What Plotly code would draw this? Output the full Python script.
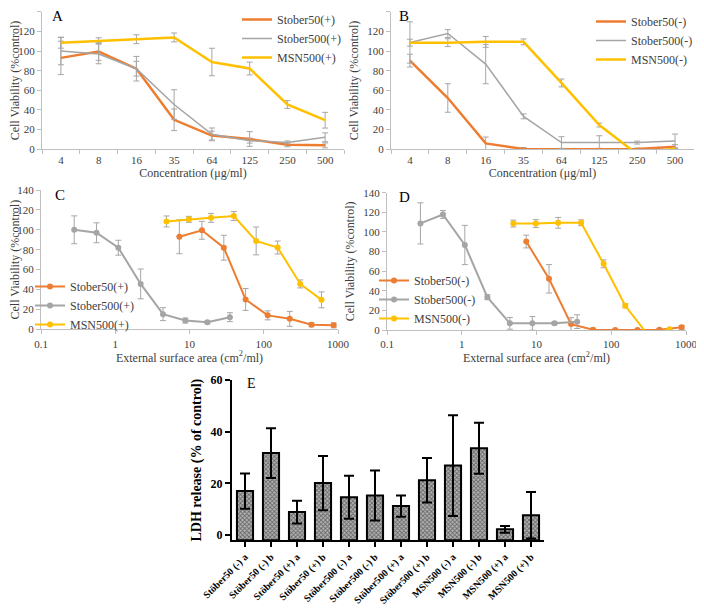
import plotly.graph_objects as go

# ---------------- data ----------------
conc_labels = ["4", "8", "16", "35", "64", "125", "250", "500"]

stober50_pos = [93, 99.5, 82, 30, 14, 10.5, 4.6, 4]
stober50_pos_err = [17, 9, 12.5, 11, 4.5, 7.5, 2, 2.5]
stober500_pos = [100, 97, 82, 45.6, 15.2, 8.8, 7, 12.2]
stober500_pos_err = [14, 10, 7.5, 15, 6.5, 2.5, 1.5, 4.5]
msn500_pos = [108.4, 110.5, 112, 113.8, 88.8, 82.2, 45.6, 29.6]
msn500_pos_err = [5.5, 3, 4.5, 4.5, 14, 6.5, 4, 8]

stober50_neg = [90.2, 52.2, 6, 0.3, 0, 0, 0.3, 2.7]
stober50_neg_err = [6.5, 14.5, 6.5, 1.5, 1, 1, 1, 2]
stober500_neg = [108.7, 117.8, 86.7, 33.5, 6.8, 6.8, 6.8, 8.5]
stober500_neg_err = [21, 4, 20, 2.5, 6, 7, 1.5, 7]
msn500_neg = [108.5, 108.5, 109.3, 109.3, 67.5, 24.7, -5, 0.8]
msn500_neg_err = [3.5, 4, 5.5, 3, 4, 2, 0, 0]

sa_stober50 = [7.3, 14.7, 29, 57, 113, 224, 440, 875]
sa_stober500 = [0.28, 0.56, 1.1, 2.2, 4.4, 8.8, 17.4, 35]
sa_msn500 = [4.9, 9.8, 19.5, 39.5, 79, 154, 310, 600]

ldh_labels = ["Stöber50 (-) a", "Stöber50 (-) b", "Stöber50 (+) a", "Stöber50 (+) b",
              "Stöber500 (-) a", "Stöber500 (-) b", "Stöber500 (+) a", "Stöber500 (+) b",
              "MSN500 (-) a", "MSN500 (-) b", "MSN500 (+) a", "MSN500 (+) b"]
ldh_values = [17, 31.7, 8.9, 20.1, 14.6, 15.3, 11.2, 21.2, 26.9, 33.6, 2.2, 7.7]
ldh_err = [6.8, 9.6, 4.4, 10.5, 8.3, 9.7, 4.1, 8.6, 19.5, 9.9, 1.3, 9]

# ---------------- style ----------------
# the page body has an 8px margin, so the figure is drawn 8px in from the window corner
OFF = 8
W, H = 704 - OFF, 612 - OFF
SERIF = "Liberation Serif, Times New Roman, serif"
ORANGE = "#ED7D31"
GREY = "#A5A5A5"
YELLOW = "#FFC000"
ERRC = "#A6A6A6"
TXT = "#404040"
AXC = "#BFBFBF"


def sx(X):
    return (X - OFF) / W


def sy(Y):
    return 1 - (Y - OFF) / H


def px_x(a, b):
    return [sx(a), sx(b)]


def px_y(top, bottom):
    return [sy(bottom), sy(top)]


fig = go.Figure()


def err(vals):
    return dict(type="data", array=vals, color=ERRC, thickness=1, width=3, visible=True)


series_pos = [("Stober50(+)", stober50_pos, stober50_pos_err, sa_stober50, ORANGE, 2.5),
              ("Stober500(+)", stober500_pos, stober500_pos_err, sa_stober500, GREY, 1.5),
              ("MSN500(+)", msn500_pos, msn500_pos_err, sa_msn500, YELLOW, 2.5)]
series_neg = [("Stober50(-)", stober50_neg, stober50_neg_err, sa_stober50, ORANGE, 2.5),
              ("Stober500(-)", stober500_neg, stober500_neg_err, sa_stober500, GREY, 1.5),
              ("MSN500(-)", msn500_neg, msn500_neg_err, sa_msn500, YELLOW, 2.5)]

# Panel A
for name, y, e, sa, c, w in series_pos:
    fig.add_trace(go.Scatter(x=conc_labels, y=y, error_y=err(e), mode="lines", name=name,
                             line=dict(color=c, width=w), xaxis="x", yaxis="y", legend="legend"))
# Panel B
for name, y, e, sa, c, w in series_neg:
    fig.add_trace(go.Scatter(x=conc_labels, y=y, error_y=err(e), mode="lines", name=name,
                             line=dict(color=c, width=w), xaxis="x2", yaxis="y2", legend="legend2"))
# Panel C
for name, y, e, sa, c, w in series_pos:
    fig.add_trace(go.Scatter(x=sa, y=y, error_y=err(e), mode="lines+markers", name=name,
                             line=dict(color=c, width=2), marker=dict(color=c, size=6),
                             xaxis="x3", yaxis="y3", legend="legend3"))
# Panel D
for name, y, e, sa, c, w in series_neg:
    fig.add_trace(go.Scatter(x=sa, y=y, error_y=err(e), mode="lines+markers", name=name,
                             line=dict(color=c, width=2), marker=dict(color=c, size=6),
                             xaxis="x4", yaxis="y4", legend="legend4"))

# Panel E
BASE = -2
fig.add_trace(go.Bar(x=ldh_labels, y=[v - BASE for v in ldh_values], base=BASE,
                     error_y=dict(type="data", array=ldh_err, color="black", thickness=2, width=5),
                     marker=dict(color="#6e6e6e", line=dict(color="black", width=2),
                                 pattern=dict(shape="x", fgcolor="#1a1a1a", bgcolor="#b4b4b4",
                                              size=3, solidity=0.5)),
                     width=0.62, xaxis="x5", yaxis="y5", showlegend=False))

tickfont = dict(family=SERIF, size=11, color=TXT)
titlefont = dict(family=SERIF, size=12, color=TXT)


def cat_x(dom):
    return dict(domain=dom, type="category", range=[-0.5, 7.5], showline=True, linecolor=AXC,
                ticks="outside", tickson="boundaries", ticklen=4, tickcolor=AXC,
                showgrid=False, zeroline=False, tickfont=tickfont, automargin=False,
                title=dict(text="Concentration (μg/ml)", font=titlefont, standoff=4))


def log_x(dom):
    return dict(domain=dom, type="log", range=[-1, 3], showline=True, linecolor=AXC,
                ticks="outside", ticklen=4, tickcolor=AXC, tickvals=[0.1, 1, 10, 100, 1000],
                ticktext=["0.1", "1", "10", "100", "1000"], showgrid=False, zeroline=False,
                tickfont=tickfont, automargin=False,
                title=dict(text="External surface area (cm<sup>2</sup>/ml)", font=titlefont, standoff=4))


def via_y(dom, anchor):
    return dict(domain=dom, anchor=anchor, range=[0, 140], dtick=20, showline=True, linecolor=AXC,
                ticks="outside", ticklen=4, tickcolor=AXC, showgrid=False, zeroline=False,
                tickfont=tickfont, automargin=False,
                title=dict(text="Cell Viability (%control)", font=titlefont, standoff=6))


yA = px_y(11.7, 149.3)
yC = px_y(190, 329.3)
yD = px_y(192.7, 330)

layout = dict(
    width=W, height=H, margin=dict(l=0, r=0, t=0, b=0, autoexpand=False),
    paper_bgcolor="white", plot_bgcolor="white",
    font=dict(family=SERIF, color=TXT),
    xaxis=dict(cat_x(px_x(42, 344)), anchor="y"),
    yaxis=via_y(yA, "x"),
    xaxis2=dict(cat_x(px_x(391, 694)), anchor="y2"),
    yaxis2=via_y(yA, "x2"),
    xaxis3=dict(log_x(px_x(41, 338)), anchor="y3"),
    yaxis3=via_y(yC, "x3"),
    xaxis4=dict(log_x(px_x(387, 686)), anchor="y4"),
    yaxis4=via_y(yD, "x4"),
    xaxis5=dict(domain=px_x(232, 544), anchor="y5", type="category", range=[-0.5, 11.5],
                showline=True, linecolor="black", linewidth=2, ticks="outside", ticklen=5,
                tickwidth=2, tickcolor="black", tickangle=-45, automargin=False,
                tickfont=dict(family=SERIF, size=10, color="black", weight="bold"),
                showgrid=False, zeroline=False),
    yaxis5=dict(domain=px_y(380, 540.2), anchor="x5", range=[BASE, 60], tickvals=[0, 20, 40, 60],
                showline=True, linecolor="black", linewidth=2, ticks="outside", ticklen=5,
                tickwidth=2, tickcolor="black", automargin=False,
                tickfont=dict(family=SERIF, size=12, color="black", weight="bold"),
                showgrid=False, zeroline=False,
                title=dict(text="LDH release (% of control)", standoff=6,
                           font=dict(family=SERIF, size=14, color="black", weight="bold"))),
)

leg_common = dict(bgcolor="rgba(0,0,0,0)", font=dict(family=SERIF, size=12, color=TXT),
                  xanchor="left", yanchor="top", itemwidth=30, tracegroupgap=0)
layout["legend"] = dict(leg_common, x=sx(237), y=sy(5))
layout["legend2"] = dict(leg_common, x=sx(591), y=sy(7))
layout["legend3"] = dict(leg_common, x=sx(30), y=sy(272))
layout["legend4"] = dict(leg_common, x=sx(374), y=sy(266))

fig.update_layout(**layout)

panel_labels = [("A", 50, 16), ("B", 397, 16), ("C", 53, 195), ("D", 397, 197), ("E", 245, 383)]
for t, x, y in panel_labels:
    fig.add_annotation(text=t, x=sx(x), y=sy(y), xref="paper", yref="paper",
                       xanchor="left", yanchor="middle", showarrow=False,
                       font=dict(family=SERIF, size=15 if t != "E" else 14, color="black"))

fig.write_html("out.html")
